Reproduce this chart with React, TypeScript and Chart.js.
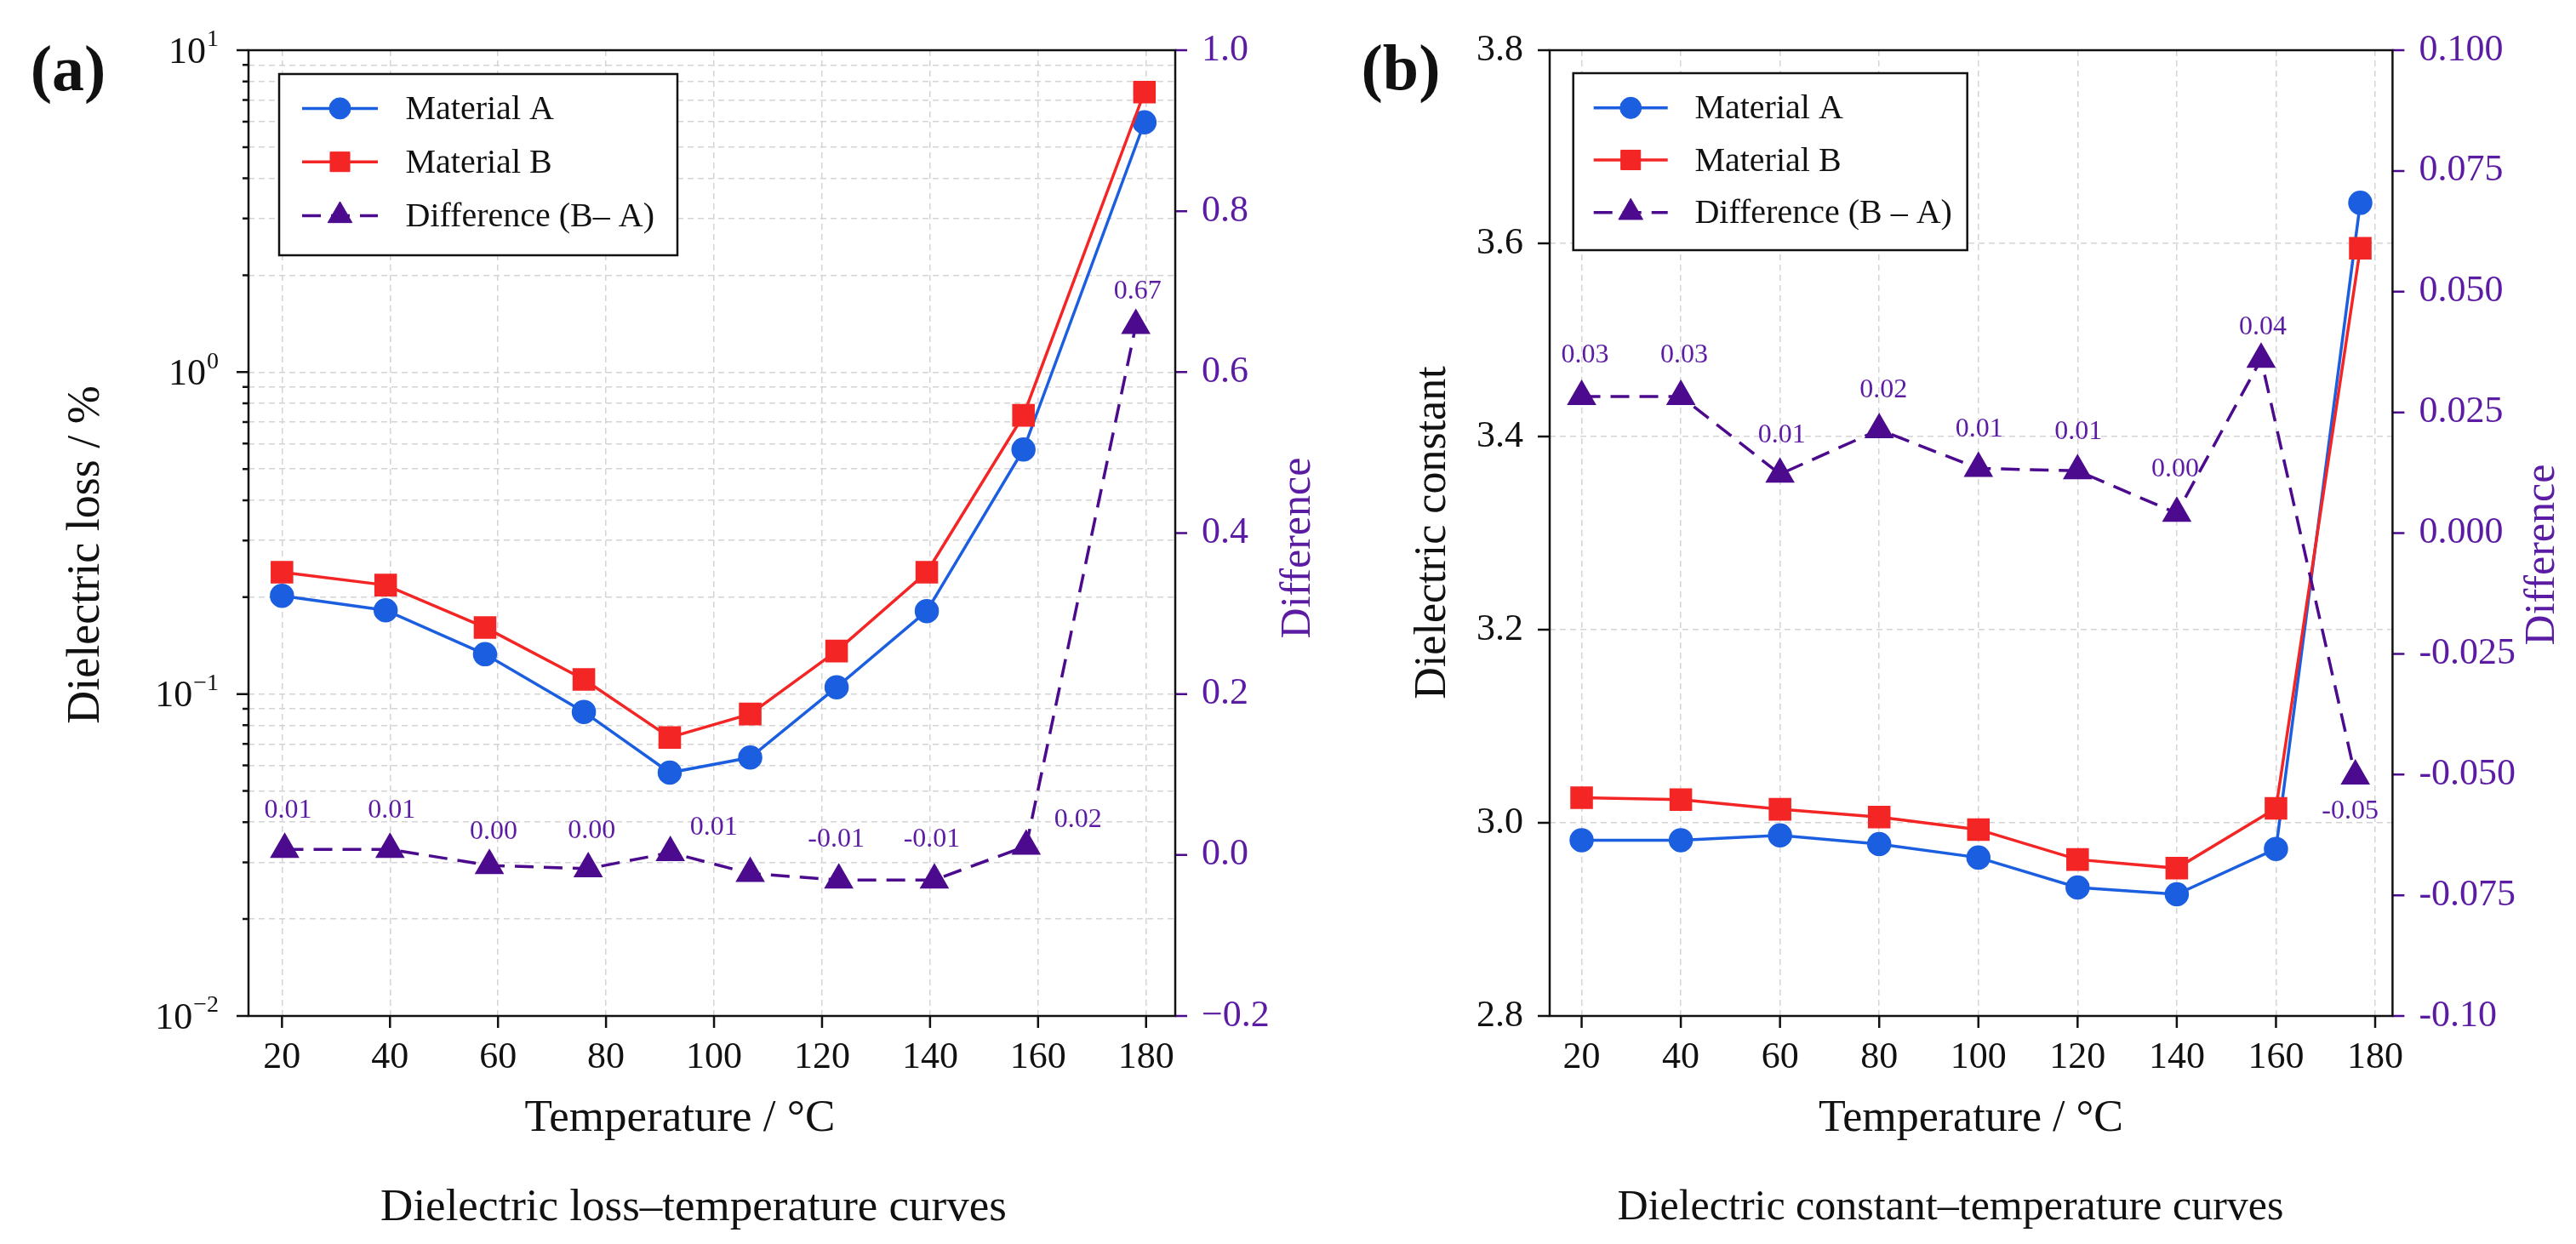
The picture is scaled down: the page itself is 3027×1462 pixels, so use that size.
import React, { useEffect, useRef } from 'react';
import Chart from 'chart.js/auto';
import { drawPoint } from 'chart.js/helpers';

const SERIF = "'Liberation Serif', 'DejaVu Serif', 'Times New Roman', serif";
const BLUE = '#1b5fe0';
const RED = '#f42525';
const INDIGO = '#4c0b8e';
const VIOLET = '#5b1ca3';
const INK = '#111111';
const GRID = '#d4d4d4';

// (a) dielectric loss
const lossTemps = [20, 39.2, 57.6, 75.9, 91.8, 106.7, 122.7, 139.4, 157.3, 179.7];
const lossA = [0.202, 0.182, 0.133, 0.088, 0.057, 0.0635, 0.105, 0.181, 0.575, 5.97];
const lossB = [0.239, 0.218, 0.161, 0.111, 0.0733, 0.0867, 0.136, 0.239, 0.734, 7.41];
const lossDiffTemps = [20.5, 40, 58.4, 76.7, 91.9, 106.7, 123.1, 140.8, 157.8, 178.1];
const lossDiff = [0.007, 0.007, -0.013, -0.017, 0.003, -0.023, -0.031, -0.031, 0.011, 0.658];
const lossDiffLabels = ['0.01', '0.01', '0.00', '0.00', '0.01', '', '-0.01', '-0.01', '0.02', '0.67'];
const lossDecades = [0.01, 0.1, 1, 10];
const lossDiffTicks = [-0.2, 0, 0.2, 0.4, 0.6, 0.8, 1.0];
const lossDiffTickLabels = ['−0.2', '0.0', '0.2', '0.4', '0.6', '0.8', '1.0'];

// (b) dielectric constant
const constTemps = [20, 40, 60, 80, 100, 120, 140, 160, 177];
const constA = [2.982, 2.982, 2.987, 2.978, 2.964, 2.933, 2.926, 2.973, 3.642];
const constB = [3.026, 3.024, 3.014, 3.006, 2.993, 2.962, 2.953, 3.015, 3.595];
const constDiffTemps = [20, 40, 60, 80, 100, 120, 140, 157, 176];
const constDiff = [0.0283, 0.0283, 0.0122, 0.0214, 0.0134, 0.0129, 0.0041, 0.036, -0.0503];
const constDiffLabels = ['0.03', '0.03', '0.01', '0.02', '0.01', '0.01', '0.00', '0.04', '-0.05'];
const constTicks = [2.8, 3.0, 3.2, 3.4, 3.6, 3.8];
const constTickLabels = ['2.8', '3.0', '3.2', '3.4', '3.6', '3.8'];
const constDiffTicks = [-0.1, -0.075, -0.05, -0.025, 0, 0.025, 0.05, 0.075, 0.1];
const constDiffTickLabels = ['-0.10', '-0.075', '-0.050', '-0.025', '0.000', '0.025', '0.050', '0.075', '0.100'];

const tempTicks = [20, 40, 60, 80, 100, 120, 140, 160, 180];

// log axis ticks: 1..9 per decade
const logTicks: number[] = [];
lossDecades.slice(0, -1).forEach(d => {
  for (let k = 1; k <= 9; k++) logTicks.push(k * d);
});
logTicks.push(lossDecades[lossDecades.length - 1]);

const isPow10 = (v: number) => Math.abs(Math.log10(v) - Math.round(Math.log10(v))) < 1e-6;

interface Panel {
  temps: number[]; a: number[]; b: number[];
  diffTemps: number[]; diff: number[]; diffLabels: string[];
  labelNudges: number[][];
  diffName: string;
  xMin: number; xMax: number;
  log: boolean;
  yMin: number; yMax: number; yTicks: number[]; yTickLabels: string[] | null;
  y1Min: number; y1Max: number; y1Ticks: number[]; y1TickLabels: string[];
  yWidth: number; y1Width: number;
  letter: string; letterAt: number[];
  xTitleAt: number[]; xTitleSize: number;
  subtitle: string; subtitleAt: number[]; subtitleSize: number;
  yTitle: string; yTitleAt: number[]; yTitleSize: number;
  y1TitleAt: number[];
  legend: { x: number; y: number; w: number; h: number; rows: number[]; lineX0: number; lineX1: number; textX: number };
}

const lossPanel: Panel = {
  temps: lossTemps, a: lossA, b: lossB,
  diffTemps: lossDiffTemps, diff: lossDiff, diffLabels: lossDiffLabels,
  labelNudges: [[4, -46], [2, -46], [5, -40], [4, -44], [51, -29], [0, 0], [-3, -48], [-3, -48], [61, -31], [2, -40]],
  diffName: 'Difference (B– A)',
  xMin: 13.8, xMax: 185.4,
  log: true,
  yMin: 0.01, yMax: 10, yTicks: logTicks, yTickLabels: null,
  y1Min: -0.2, y1Max: 1.0, y1Ticks: lossDiffTicks, y1TickLabels: lossDiffTickLabels,
  yWidth: 292, y1Width: 199,
  letter: '(a)', letterAt: [80, 86],
  xTitleAt: [799, 1315], xTitleSize: 53,
  subtitle: 'Dielectric loss–temperature curves', subtitleAt: [815, 1420], subtitleSize: 53,
  yTitle: 'Dielectric loss / %', yTitleAt: [102, 652], yTitleSize: 54,
  y1TitleAt: [1526, 644],
  legend: { x: 328, y: 87, w: 468, h: 213, rows: [127.4, 190.2, 253.4], lineX0: 355, lineX1: 444, textX: 476.5 },
};

const constPanel: Panel = {
  temps: constTemps, a: constA, b: constB,
  diffTemps: constDiffTemps, diff: constDiff, diffLabels: constDiffLabels,
  labelNudges: [[4, -48], [4, -48], [2, -46], [5, -46], [1, -46], [1, -46], [-2, -52], [2, -38], [-6, 42]],
  diffName: 'Difference (B – A)',
  xMin: 13.56, xMax: 183.5,
  log: false,
  yMin: 2.8, yMax: 3.8, yTicks: constTicks, yTickLabels: constTickLabels,
  y1Min: -0.1, y1Max: 0.1, y1Ticks: constDiffTicks, y1TickLabels: constDiffTickLabels,
  yWidth: 241, y1Width: 215.6,
  letter: '(b)', letterAt: [66, 85],
  xTitleAt: [736, 1315], xTitleSize: 52,
  subtitle: 'Dielectric constant–temperature curves', subtitleAt: [712, 1420], subtitleSize: 50,
  yTitle: 'Dielectric constant', yTitleAt: [104, 626], yTitleSize: 52,
  y1TitleAt: [1408, 652],
  legend: { x: 268.7, y: 86, w: 463, h: 208, rows: [126.8, 188, 249.7], lineX0: 292.7, lineX1: 379.7, textX: 411.4 },
};

function rotatedText(ctx: CanvasRenderingContext2D, txt: string, x: number, y: number) {
  ctx.save();
  ctx.translate(x, y);
  ctx.rotate(-Math.PI / 2);
  ctx.fillText(txt, 0, 0);
  ctx.restore();
}

function drawDecor(chart: any, p: Panel) {
  const { ctx, chartArea: a, scales } = chart;
  ctx.save();
  ctx.setLineDash([]);

  // tick marks
  ctx.lineWidth = 2.5;
  ctx.strokeStyle = INK;
  ctx.beginPath();
  scales.x.ticks.forEach((t: any) => {
    const px = scales.x.getPixelForValue(t.value);
    ctx.moveTo(px, a.bottom);
    ctx.lineTo(px, a.bottom + 14);
  });
  scales.y.ticks.forEach((t: any) => {
    const py = scales.y.getPixelForValue(t.value);
    const len = !p.log || isPow10(t.value) ? 14 : 7;
    ctx.moveTo(a.left, py);
    ctx.lineTo(a.left - len, py);
  });
  ctx.stroke();
  ctx.strokeStyle = INDIGO;
  ctx.beginPath();
  scales.y1.ticks.forEach((t: any) => {
    const py = scales.y1.getPixelForValue(t.value);
    ctx.moveTo(a.right, py);
    ctx.lineTo(a.right + 14, py);
  });
  ctx.stroke();

  // frame
  ctx.strokeStyle = INK;
  ctx.lineWidth = 2.5;
  ctx.strokeRect(a.left, a.top, a.right - a.left, a.bottom - a.top);

  // log axis labels 10^n
  if (p.log) {
    ctx.fillStyle = INK;
    ctx.textBaseline = 'middle';
    const edge = a.left - 35;
    lossDecades.forEach(d => {
      const py = scales.y.getPixelForValue(d);
      const e = Math.round(Math.log10(d));
      const expTxt = e < 0 ? '−' + Math.abs(e) : String(e);
      ctx.font = `28px ${SERIF}`;
      const ew = ctx.measureText(expTxt).width;
      ctx.textAlign = 'left';
      ctx.fillText(expTxt, edge - ew, py - 12);
      ctx.font = `44px ${SERIF}`;
      ctx.textAlign = 'right';
      ctx.fillText('10', edge - ew - 1, py + 3);
    });
  }

  // value labels on the difference curve
  const meta = chart.getDatasetMeta(2);
  ctx.fillStyle = VIOLET;
  ctx.font = `32px ${SERIF}`;
  ctx.textAlign = 'center';
  ctx.textBaseline = 'middle';
  meta.data.forEach((pt: any, i: number) => {
    const txt = p.diffLabels[i];
    if (!txt) return;
    const [dx, dy] = p.labelNudges[i];
    ctx.fillText(txt, pt.x + dx, pt.y + dy);
  });

  // legend
  const lg = p.legend;
  ctx.fillStyle = '#ffffff';
  ctx.fillRect(lg.x, lg.y, lg.w, lg.h);
  ctx.strokeStyle = INK;
  ctx.lineWidth = 2.5;
  ctx.strokeRect(lg.x, lg.y, lg.w, lg.h);
  chart.data.datasets.forEach((ds: any, i: number) => {
    const ry = lg.rows[i];
    ctx.strokeStyle = ds.borderColor;
    ctx.lineWidth = ds.borderWidth;
    ctx.setLineDash(ds.borderDash || []);
    ctx.beginPath();
    ctx.moveTo(lg.lineX0, ry);
    ctx.lineTo(lg.lineX1, ry);
    ctx.stroke();
    ctx.setLineDash([]);
    ctx.fillStyle = ds.pointBackgroundColor;
    ctx.strokeStyle = ds.pointBorderColor;
    ctx.lineWidth = 1;
    drawPoint(ctx, { pointStyle: ds.pointStyle, radius: ds.pointRadius, borderWidth: 1, rotation: 0 } as any,
      (lg.lineX0 + lg.lineX1) / 2, ry);
    ctx.fillStyle = INK;
    ctx.font = `40px ${SERIF}`;
    ctx.textAlign = 'left';
    ctx.textBaseline = 'middle';
    ctx.fillText(ds.label, lg.textX, ry + 2);
  });

  // titles
  ctx.fillStyle = INK;
  ctx.textAlign = 'center';
  ctx.textBaseline = 'middle';
  ctx.font = `bold 76px ${SERIF}`;
  ctx.fillText(p.letter, p.letterAt[0], p.letterAt[1]);
  ctx.font = `${p.xTitleSize}px ${SERIF}`;
  ctx.fillText('Temperature / °C', p.xTitleAt[0], p.xTitleAt[1]);
  ctx.font = `${p.subtitleSize}px ${SERIF}`;
  ctx.fillText(p.subtitle, p.subtitleAt[0], p.subtitleAt[1]);
  ctx.font = `${p.yTitleSize}px ${SERIF}`;
  rotatedText(ctx, p.yTitle, p.yTitleAt[0], p.yTitleAt[1]);
  ctx.fillStyle = VIOLET;
  ctx.font = `50px ${SERIF}`;
  rotatedText(ctx, 'Difference', p.y1TitleAt[0], p.y1TitleAt[1]);

  ctx.restore();
}

function buildChart(canvas: HTMLCanvasElement, p: Panel) {
  const decor = {
    id: 'panelDecor',
    afterDraw(chart: any) { drawDecor(chart, p); },
  };
  const gridStyle = { color: GRID, lineWidth: 1.5, drawTicks: false };
  const gridBorder = { display: false, dash: [7, 5] };
  const tickFont = { size: 44, family: SERIF };

  return new Chart(canvas, {
    type: 'line',
    data: {
      datasets: [
        {
          label: 'Material A',
          data: p.temps.map((x, i) => ({ x, y: p.a[i] })),
          borderColor: BLUE, backgroundColor: BLUE,
          pointBackgroundColor: BLUE, pointBorderColor: BLUE,
          pointStyle: 'circle', pointRadius: 12.5, borderWidth: 3.5,
          yAxisID: 'y', order: 2,
        },
        {
          label: 'Material B',
          data: p.temps.map((x, i) => ({ x, y: p.b[i] })),
          borderColor: RED, backgroundColor: RED,
          pointBackgroundColor: RED, pointBorderColor: RED,
          pointStyle: 'rect', pointRadius: 16.3, borderWidth: 3.5,
          yAxisID: 'y', order: 1,
        },
        {
          label: p.diffName,
          data: p.diffTemps.map((x, i) => ({ x, y: p.diff[i] })),
          borderColor: INDIGO, backgroundColor: INDIGO,
          pointBackgroundColor: INDIGO, pointBorderColor: INDIGO,
          pointStyle: 'triangle', pointRadius: 16.5, borderWidth: 3.5,
          borderDash: [22, 12],
          yAxisID: 'y1', order: 0,
        },
      ] as any,
    },
    options: {
      animation: false,
      responsive: true,
      maintainAspectRatio: false,
      events: [],
      layout: { padding: { top: 59, bottom: 68, left: 0, right: 0 } },
      plugins: {
        legend: { display: false },
        tooltip: { enabled: false },
      },
      scales: {
        x: {
          type: 'linear',
          min: p.xMin,
          max: p.xMax,
          afterBuildTicks: (s: any) => { s.ticks = tempTicks.map(value => ({ value })); },
          afterFit: (s: any) => { s.height = 200; },
          grid: gridStyle,
          border: gridBorder,
          ticks: { font: tickFont, color: INK, padding: 23, maxRotation: 0, autoSkip: false },
        },
        y: {
          type: p.log ? 'logarithmic' : 'linear',
          position: 'left',
          min: p.yMin,
          max: p.yMax,
          afterBuildTicks: (s: any) => { s.ticks = p.yTicks.map(value => ({ value, major: isPow10(value) })); },
          afterFit: (s: any) => { s.width = p.yWidth; },
          grid: gridStyle,
          border: gridBorder,
          ticks: {
            font: tickFont, color: INK, padding: 31, autoSkip: false,
            callback: (_v: any, i: number) => (p.yTickLabels ? p.yTickLabels[i] : ''),
          },
        },
        y1: {
          type: 'linear',
          position: 'right',
          min: p.y1Min,
          max: p.y1Max,
          afterBuildTicks: (s: any) => { s.ticks = p.y1Ticks.map(value => ({ value })); },
          afterFit: (s: any) => { s.width = p.y1Width; },
          grid: { drawOnChartArea: false, drawTicks: false },
          border: { display: false },
          ticks: {
            font: tickFont, color: VIOLET, padding: 31, autoSkip: false,
            callback: (_v: any, i: number) => p.y1TickLabels[i],
          },
        },
      },
    } as any,
    plugins: [decor],
  });
}

const App: React.FC = () => {
  const lossRef = useRef<HTMLCanvasElement>(null);
  const constRef = useRef<HTMLCanvasElement>(null);

  useEffect(() => {
    document.body.style.margin = '0';
    Chart.defaults.font.family = SERIF;
    const charts: Chart[] = [];
    if (lossRef.current) charts.push(buildChart(lossRef.current, lossPanel));
    if (constRef.current) charts.push(buildChart(constRef.current, constPanel));
    return () => {
      charts.forEach(c => c.destroy());
    };
  }, []);

  return (
    <div style={{ position: 'relative', width: 3027, height: 1462, background: '#ffffff', overflow: 'hidden' }}>
      <div style={{ position: 'absolute', left: 0, top: 0, width: 1580, height: 1462 }}>
        <canvas ref={lossRef}></canvas>
      </div>
      <div style={{ position: 'absolute', left: 1580, top: 0, width: 1447, height: 1462 }}>
        <canvas ref={constRef}></canvas>
      </div>
    </div>
  );
};

export default App;
